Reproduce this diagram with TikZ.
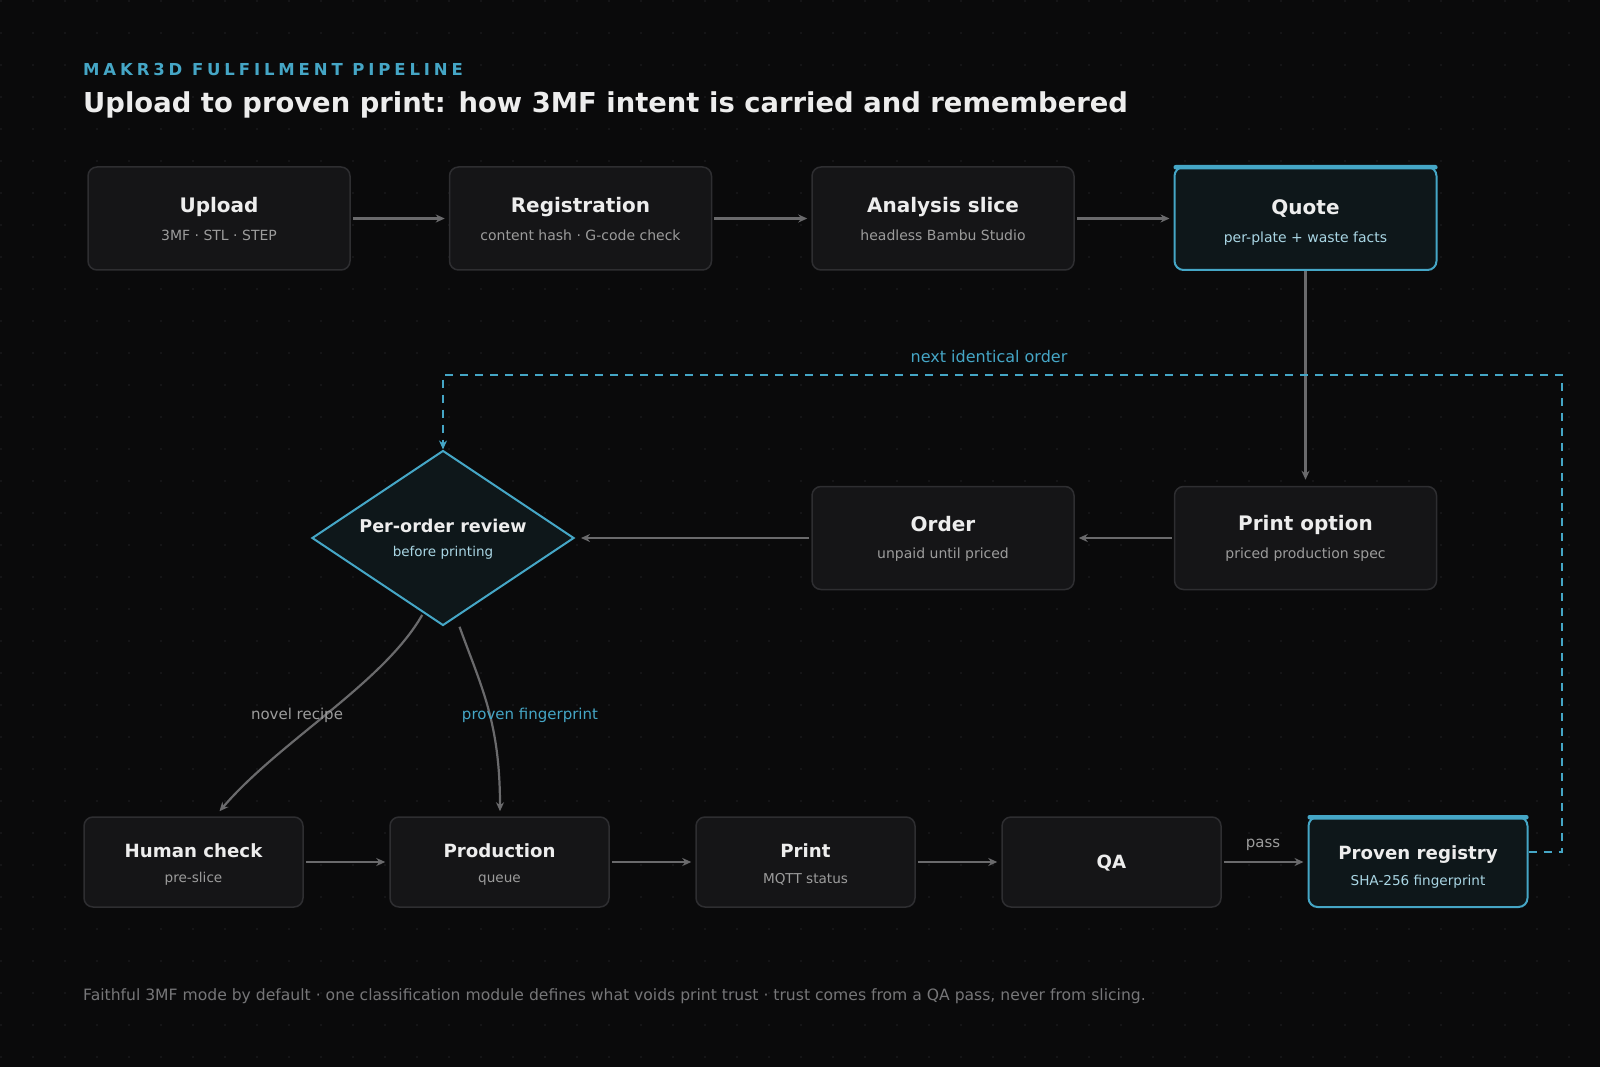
\documentclass[tikz,border=0pt]{standalone}
\usepackage{fontspec}
\setmainfont{DejaVu Sans}
\usetikzlibrary{arrows.meta,shapes.geometric,calc}
\definecolor{bg}{HTML}{0A0A0B}
\definecolor{dotc}{HTML}{19191C}
\definecolor{boxfill}{HTML}{151517}
\definecolor{boxline}{HTML}{2E2E31}
\definecolor{hlfill}{HTML}{0E171A}
\definecolor{accent}{HTML}{45A6C6}
\definecolor{titlec}{HTML}{EDEDED}
\definecolor{subc}{HTML}{9C9C9C}
\definecolor{hlsub}{HTML}{A9D6E4}
\definecolor{arrowc}{HTML}{6A6A6C}
\definecolor{footc}{HTML}{767678}
\tikzset{
  box/.style={draw=boxline, fill=boxfill, rounded corners=9pt, line width=1.5pt,
    minimum width=262pt, minimum height=103pt, inner sep=0pt},
  smallbox/.style={box, minimum width=219pt, minimum height=90pt},
  hl/.style={draw=accent, fill=hlfill, line width=2pt},
  ttl/.style={font=\fontsize{20}{24}\selectfont\bfseries, text=titlec, inner sep=0pt},
  sttl/.style={ttl, font=\fontsize{18.2}{22}\selectfont\bfseries},
  subt/.style={font=\fontsize{14}{17}\selectfont, text=subc, inner sep=0pt},
  ssubt/.style={subt, font=\fontsize{13.6}{16}\selectfont},
  hlsubt/.style={subt, text=hlsub},
  conn/.style={draw=arrowc, line width=2.2pt, -{Stealth[length=9pt,width=8pt]}, shorten >=4pt, shorten <=2pt},
  lbl/.style={font=\fontsize{15}{18}\selectfont, text=subc, inner sep=0pt},
}
\begin{document}
\begin{tikzpicture}[x=1pt,y=-1pt]
\fill[bg] (0,0) rectangle (1600,1067);
\useasboundingbox (0,0) rectangle (1600,1067);
\foreach \i in {0,...,49}{
  \foreach \j in {0,...,33}{
    \fill[dotc] (1+32*\i,1+32*\j) circle (1.1pt);
  }
}
% heading
\node[anchor=base west, inner sep=0pt, text=accent, font=\fontsize{16.5}{19}\selectfont\bfseries\addfontfeature{LetterSpace=23.5}] (tag) at (83,75.5) {MAKR3D FULFILMENT PIPELINE};
\node[anchor=base west, inner sep=0pt, text=titlec, font=\fontsize{27.4}{32}\selectfont\bfseries] (head) at (83,113) {Upload to proven print: how 3MF intent is carried and remembered};

% top row
\node[box] (up) at (219,218.5) {};
\node[ttl] at ($(up.center)+(0,-11.5)$) {Upload};
\node[subt] at ($(up.center)+(0,16.5)$) {3MF · STL · STEP};

\node[box] (reg) at (580.5,218.5) {};
\node[ttl] at ($(reg.center)+(0,-11.5)$) {Registration};
\node[subt] at ($(reg.center)+(0,16.5)$) {content hash · G-code check};

\node[box] (ana) at (943,218.5) {};
\node[ttl] at ($(ana.center)+(0,-11.5)$) {Analysis slice};
\node[subt] at ($(ana.center)+(0,16.5)$) {headless Bambu Studio};

\node[box,hl] (quote) at (1305.5,218.5) {};
\fill[accent, rounded corners=2pt] ($(quote.north west)+(0,-1)$) rectangle ($(quote.north east)+(0,3.5)$);
\node[ttl] at ($(quote.center)+(0,-9.5)$) {Quote};
\node[hlsubt] at ($(quote.center)+(0,20.5)$) {per-plate + waste facts};

% middle row
\node[box] (popt) at (1305.5,538) {};
\node[ttl] at ($(popt.center)+(0,-13.5)$) {Print option};
\node[subt] at ($(popt.center)+(0,17)$) {priced production spec};

\node[box] (ord) at (943,538) {};
\node[ttl] at ($(ord.center)+(0,-13.5)$) {Order};
\node[subt] at ($(ord.center)+(0,17)$) {unpaid until priced};

\node[diamond, draw=accent, fill=hlfill, line width=2pt, minimum width=262pt, minimum height=175pt, inner sep=0pt] (rev) at (443,538) {};
\node[ttl, font=\fontsize{17.6}{21}\selectfont\bfseries] at ($(rev.center)+(0,-12.5)$) {Per-order review};
\node[hlsubt, font=\fontsize{13.5}{16}\selectfont] at ($(rev.center)+(0,15)$) {before printing};

% bottom row
\node[smallbox] (hum) at (193.5,862) {};
\node[sttl] at ($(hum.center)+(0,-11)$) {Human check};
\node[ssubt] at ($(hum.center)+(0,17)$) {pre-slice};

\node[smallbox] (prod) at (499.5,862) {};
\node[sttl] at ($(prod.center)+(0,-11)$) {Production};
\node[ssubt] at ($(prod.center)+(0,18)$) {queue};

\node[smallbox] (prt) at (805.5,862) {};
\node[sttl] at ($(prt.center)+(0,-11)$) {Print};
\node[ssubt] at ($(prt.center)+(0,17.5)$) {MQTT status};

\node[smallbox] (qa) at (1111.5,862) {};
\node[sttl] at ($(qa.center)+(0,1.5)$) {QA};

\node[smallbox,hl] (preg) at (1418,862) {};
\fill[accent, rounded corners=2pt] ($(preg.north west)+(0,-1)$) rectangle ($(preg.north east)+(0,3.5)$);
\node[sttl] at ($(preg.center)+(0,-7)$) {Proven registry};
\node[hlsubt, font=\fontsize{13.6}{16}\selectfont] at ($(preg.center)+(0,20)$) {SHA-256 fingerprint};

% connectors
\draw[conn] (up.east) -- (reg.west);
\draw[conn] (reg.east) -- (ana.west);
\draw[conn] (ana.east) -- (quote.west);
\draw[conn, shorten <=0pt, shorten >=6pt] (quote.south) -- (popt.north);
\draw[conn] (popt.west) -- (ord.east);
\draw[conn, shorten >=6pt] (ord.west) -- (rev.east);

\coordinate (nrs) at ($(rev.south)!0.15!(rev.west)$);
\coordinate (pfs) at ($(rev.south)!0.12!(rev.east)$);
\coordinate (hume) at ($(hum.north)+(26,-5)$);
\coordinate (prode) at ($(prod.north)+(0.5,-5)$);
\draw[conn, shorten >=0pt] (nrs) .. controls ($(nrs)+(-40,70)$) and ($(hume)+(60,-70)$) .. (hume);
\draw[conn, shorten >=0pt] ($(pfs)+(0,9)$) .. controls ($(pfs)+(22,70)$) and ($(prode)+(0,-90)$) .. (prode);
\node[lbl] at (297,715) {novel recipe};
\node[lbl, text=accent] at (530,715) {proven fingerprint};

\draw[conn] (hum.east) -- (prod.west);
\draw[conn] (prod.east) -- (prt.west);
\draw[conn] (prt.east) -- (qa.west);
\draw[conn] (qa.east) -- (preg.west);
\node[lbl] at (1263,845) {pass};

% feedback loop
\coordinate (loopc) at (1562,374.5);
\draw[accent, line width=2pt, dash pattern=on 8pt off 7pt, -{Stealth[length=9pt,width=8pt]}]
  ($(preg.east)+(0,-10)$) -| (loopc) -| (rev.north);
\node[lbl, text=accent, font=\fontsize{16}{19}\selectfont] at (989,357) {next identical order};

% footer
\node[anchor=base west, inner sep=0pt, text=footc, font=\fontsize{15.6}{18}\selectfont] (foot) at (83,1000.5) {Faithful 3MF mode by default · one classification module defines what voids print trust · trust comes from a QA pass, never from slicing.};
\end{tikzpicture}
\end{document}
